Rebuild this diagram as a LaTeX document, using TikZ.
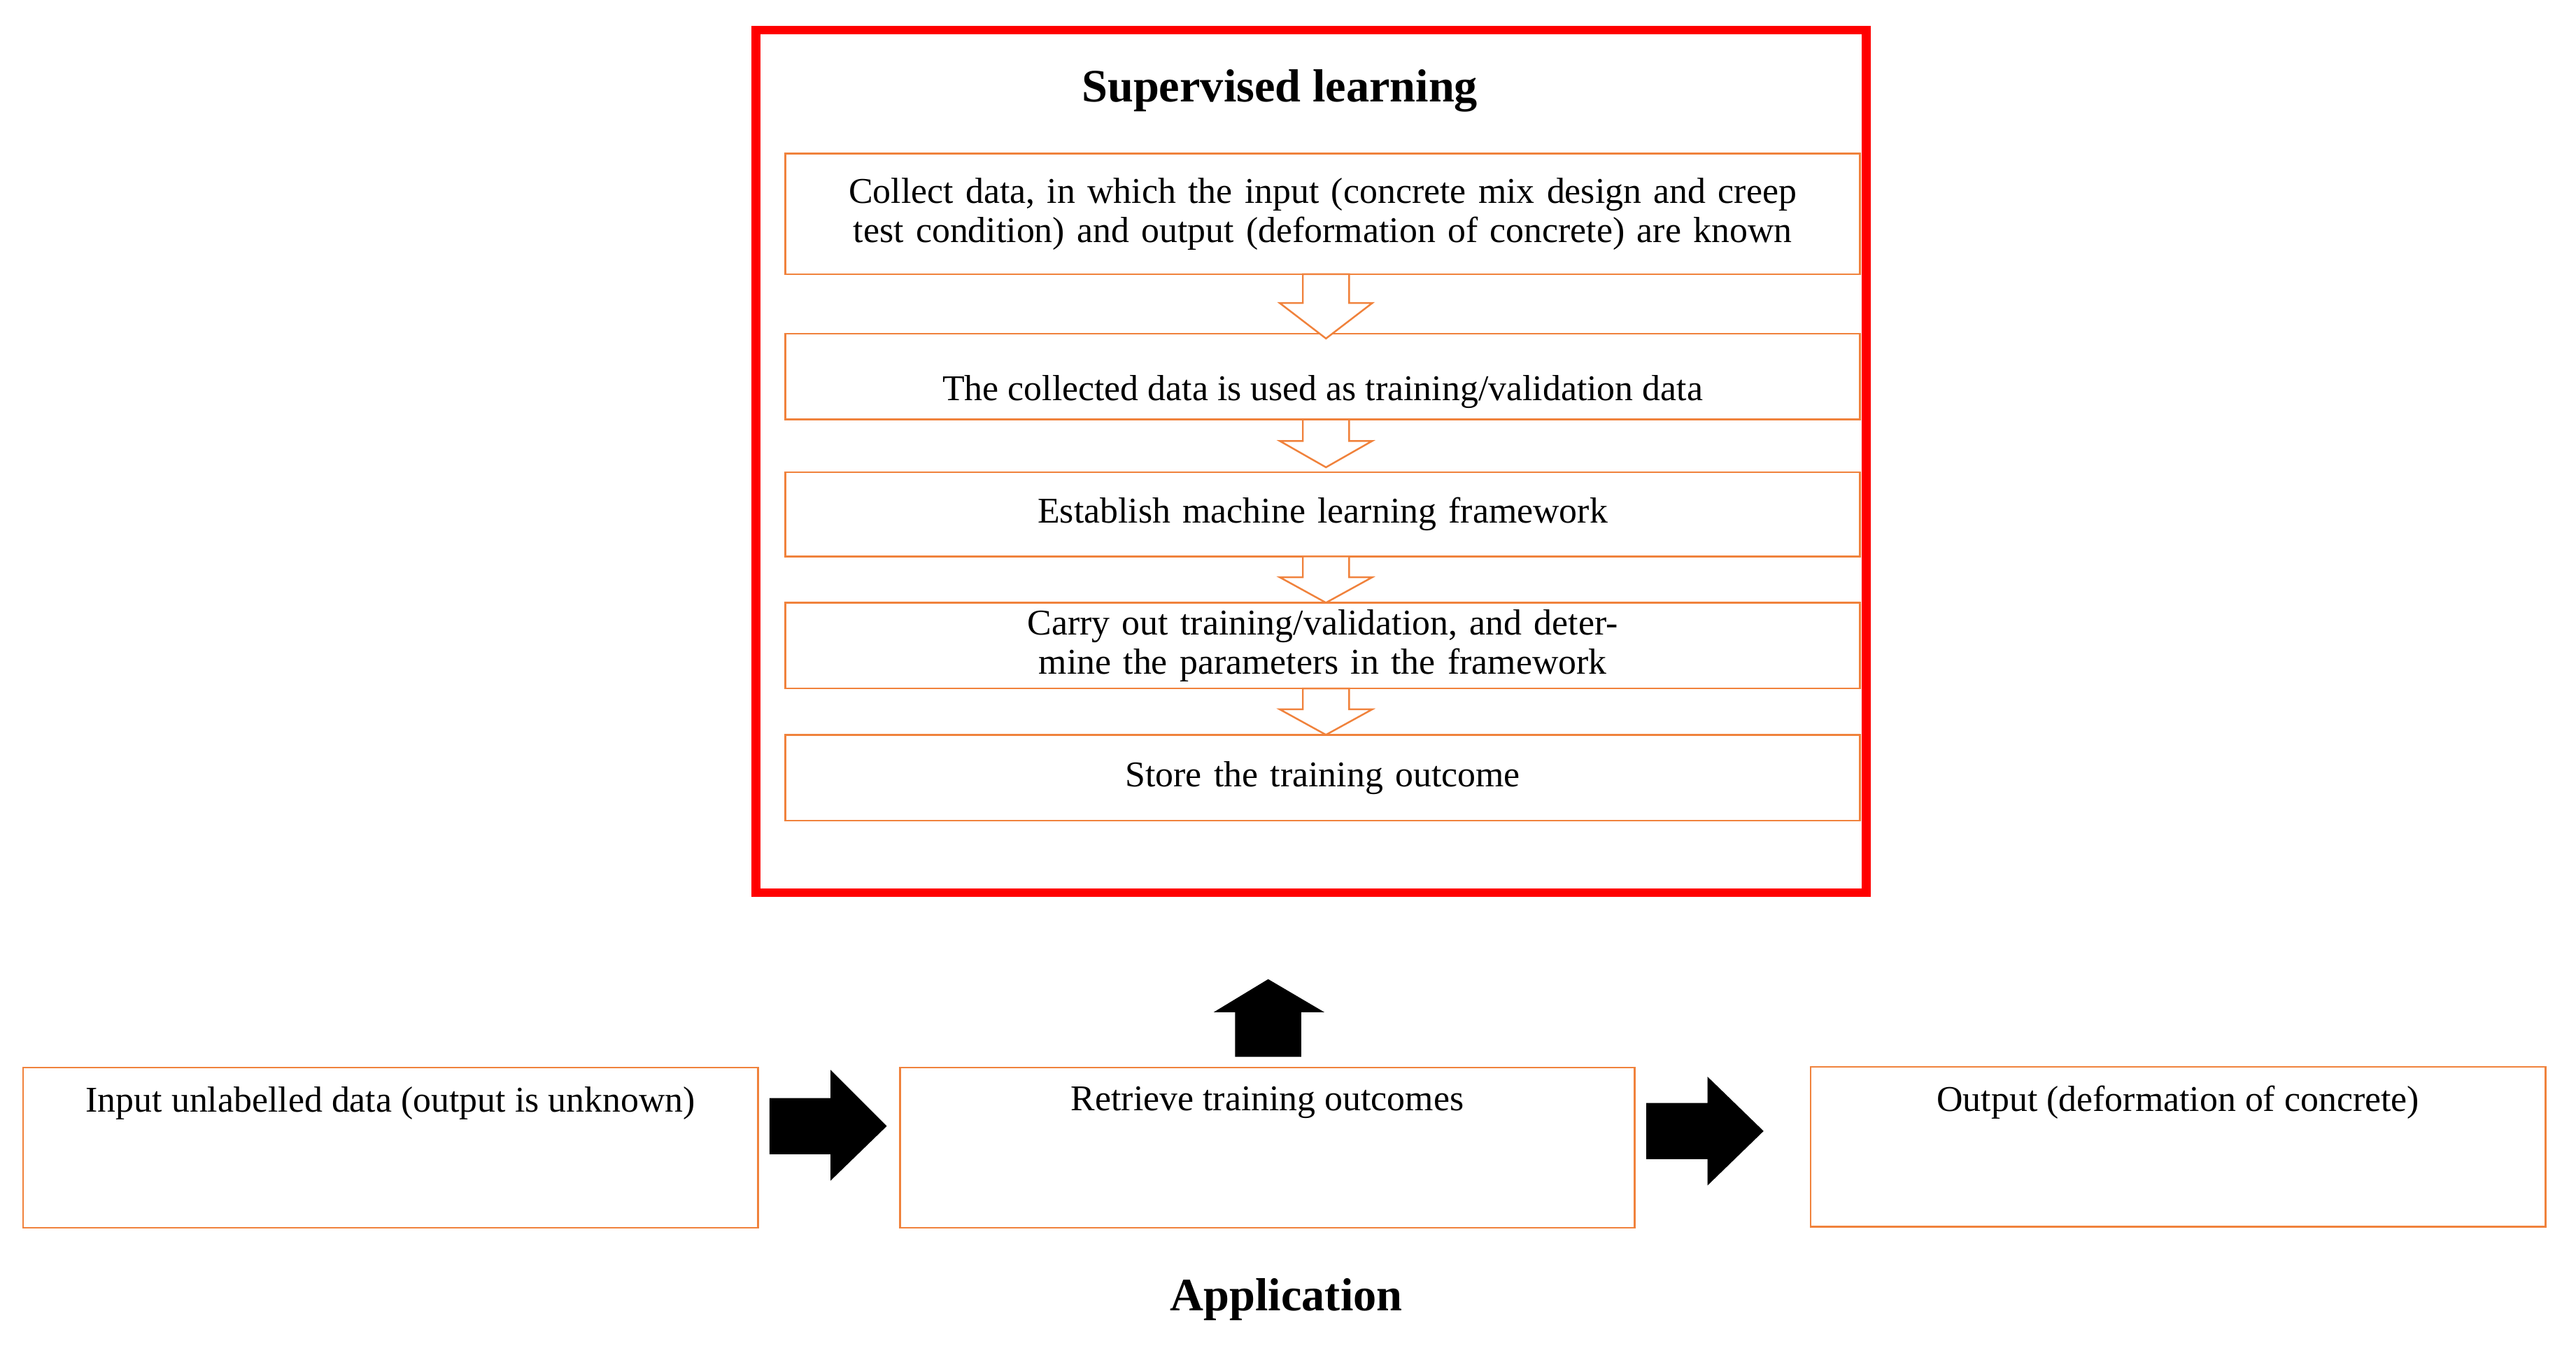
\documentclass[tikz,border=0pt]{standalone}
\usepackage{fontspec}
\setmainfont{Liberation Serif}
\usetikzlibrary{positioning}
\definecolor{boxorange}{RGB}{240,130,60}
\tikzset{
  stepbox/.style={draw=boxorange,line width=0.6pt,minimum width=13.02cm,inner sep=0pt,font=\fontsize{12.5}{13.5}\selectfont,text width=12.9cm,align=center},
  app/.style={draw=boxorange,line width=0.6pt,minimum width=8.9cm,minimum height=1.94cm,inner sep=0pt},
  apptext/.style={font=\fontsize{12.5}{13.5}\selectfont},
  hollow/.style={draw=boxorange,fill=white,line width=0.6pt},
  solid/.style={fill=black},
  heading/.style={font=\bfseries\fontsize{16}{18}\selectfont}
}
\begin{document}
\begin{tikzpicture}[x=0.02cm,y=-0.02cm]
	\useasboundingbox (0,0) rectangle (1560,815);

	% supervised learning frame
	\node[draw=red,line width=3pt,minimum width=13.45cm,minimum height=10.45cm] (sup) at (794,279.5) {};
	\node[heading] (title) at (775,55) {Supervised learning};

	\node[stepbox,minimum height=1.46cm] (s1) at (801,129.5) {\hyphenpenalty=10000 Collect data, in which the input (concrete mix design and creep test condition) and output (deformation of concrete) are known};
	\node[stepbox,minimum height=1.04cm] (s2) at (801,228) {};
	\node[apptext,above=0.02cm of s2.south] (s2text) {The collected data is used as training/validation data};
	\node[stepbox,minimum height=1.02cm] (s3) at (801,311.5) {Establish machine learning framework};
	\node[stepbox,minimum height=1.04cm] (s4) at (801,391) {\hyphenpenalty=10000 Carry out training/validation, and determine the parameters in the framework};
	\node[stepbox,minimum height=1.04cm] (s5) at (801,471) {Store the training outcome};

	% hollow arrows between the steps
	\foreach \top/\bot in {166/205,254/283,337/365,417/445}{
		\pgfmathsetmacro{\mid}{\bot-0.55*(\bot-\top)}
		\draw[hollow] (789,\top) -- (817,\top) -- (817,\mid) -- (831,\mid) -- (803,\bot)
			-- (775,\mid) -- (789,\mid) -- cycle;
	}

	% application row
	\node[app] (a1) at (236.5,695) {};
	\node[app] (a2) at (767.5,695) {};
	\node[app] (a3) at (1319,694.5) {};
	\node[apptext,below=0.12cm of a1.north] (t1) {Input unlabelled data (output is unknown)};
	\node[apptext,below=0.12cm of a2.north] (t2) {Retrieve training outcomes};
	\node[apptext,below=0.12cm of a3.north] (t3) {Output (deformation of concrete)};

	% black block arrows
	\fill[solid] (466,665) -- (503,665) -- (503,648) -- (537,682) -- (503,715) -- (503,699) -- (466,699) -- cycle;
	\fill[solid] (997,668) -- (1034,668) -- (1034,652) -- (1068,685) -- (1034,718) -- (1034,702) -- (997,702) -- cycle;
	\fill[solid] (748,640) -- (748,613) -- (735,613) -- (768,593) -- (802,613) -- (788,613) -- (788,640) -- cycle;

	\node[heading] (apphead) at (779,787) {Application};
\end{tikzpicture}
\end{document}
